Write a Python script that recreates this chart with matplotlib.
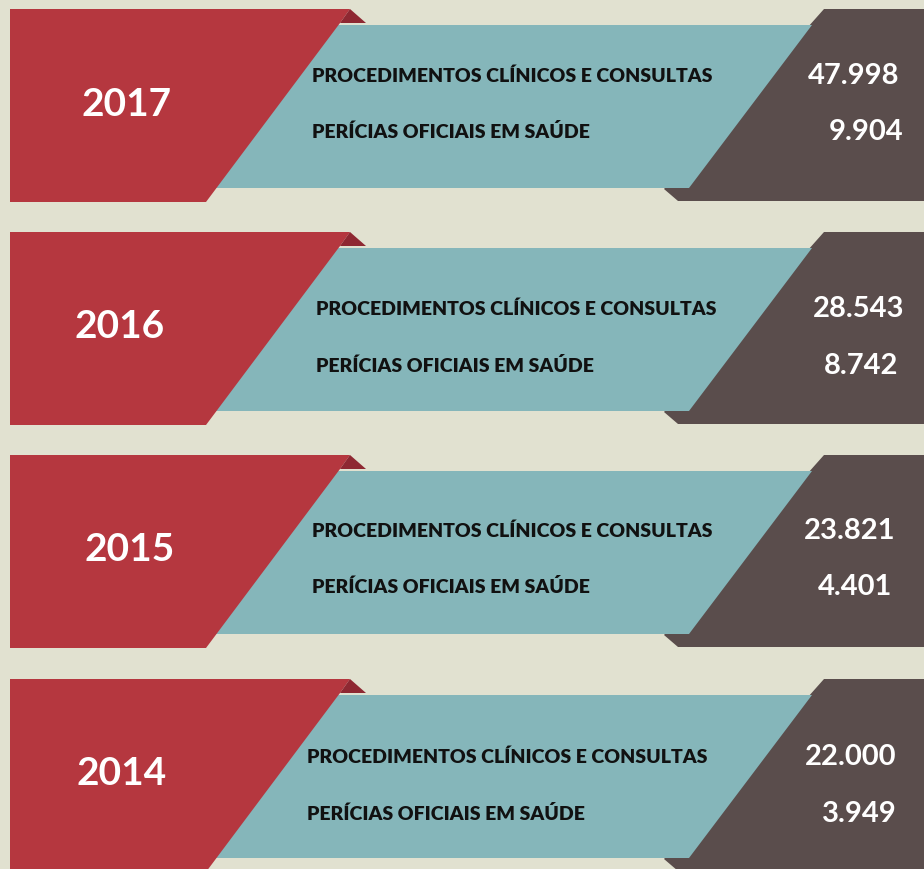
import matplotlib
matplotlib.use("Agg")
import matplotlib.pyplot as plt
from matplotlib.patches import Polygon

# ---- data ----
years = ["2017", "2016", "2015", "2014"]
label_proc = "PROCEDIMENTOS CLÍNICOS E CONSULTAS"
label_peric = "PERÍCIAS OFICIAIS EM SAÚDE"
proc_values = ["47.998", "28.543", "23.821", "22.000"]
peric_values = ["9.904", "8.742", "4.401", "3.949"]

# ---- layout ----
block_tops = [10, 233, 456, 680]
year_x = [127, 120, 130, 122]
label_x = [312, 316, 312, 307]
proc_val_x = [854, 859, 850, 851]
peric_val_x = [866, 861, 855, 859]
proc_dy = [66, 76, 75, 77]
peric_dy = [122, 133, 131, 134]

BG = "#E1E1D0"
RED = "#B5373F"
FOLD = "#8E2832"
TEAL = "#85B6BA"
BROWN = "#5A4D4C"

fig = plt.figure(figsize=(9.24, 8.70), dpi=100)
fig.patch.set_facecolor(BG)
ax = fig.add_axes([0, 0, 1, 1])
ax.set_xlim(0, 924)
ax.set_ylim(870, 0)
ax.axis("off")
ax.set_facecolor(BG)

font = ["Lato", "DejaVu Sans"]

for i, t in enumerate(block_tops):
    # brown panel
    brown = [(824, t), (924, t), (924, t + 192), (678, t + 192), (664, t + 180)]
    ax.add_patch(Polygon(brown, closed=True, fc=BROWN, ec="none", zorder=1))
    # teal band
    teal = [(200, t + 16), (812, t + 16), (689, t + 179), (200, t + 179)]
    ax.add_patch(Polygon(teal, closed=True, fc=TEAL, ec="none", zorder=2))
    # red panel
    red = [(10, t), (350, t), (340, t + 14), (206, t + 193), (10, t + 193)]
    ax.add_patch(Polygon(red, closed=True, fc=RED, ec="none", zorder=3,
                         joinstyle="round"))
    # fold
    fold = [(350, t), (366, t + 14), (340, t + 14)]
    ax.add_patch(Polygon(fold, closed=True, fc=FOLD, ec="none", zorder=3))

    ax.text(year_x[i], t + 94, years[i], color="white", fontsize=28,
            fontweight="bold", family=font, ha="center", va="center", zorder=4)
    ax.text(label_x[i], t + proc_dy[i], label_proc, color="#111111", fontsize=14,
            fontweight="heavy", family=font, ha="left", va="center", zorder=4)
    ax.text(label_x[i], t + peric_dy[i], label_peric, color="#111111", fontsize=14,
            fontweight="heavy", family=font, ha="left", va="center", zorder=4)
    ax.text(proc_val_x[i], t + proc_dy[i], proc_values[i], color="white",
            fontsize=21, fontweight="bold", family=font, ha="center",
            va="center", zorder=4)
    ax.text(peric_val_x[i], t + peric_dy[i], peric_values[i], color="white",
            fontsize=21, fontweight="bold", family=font, ha="center",
            va="center", zorder=4)

fig.savefig("out.png", dpi=100, facecolor=BG)
